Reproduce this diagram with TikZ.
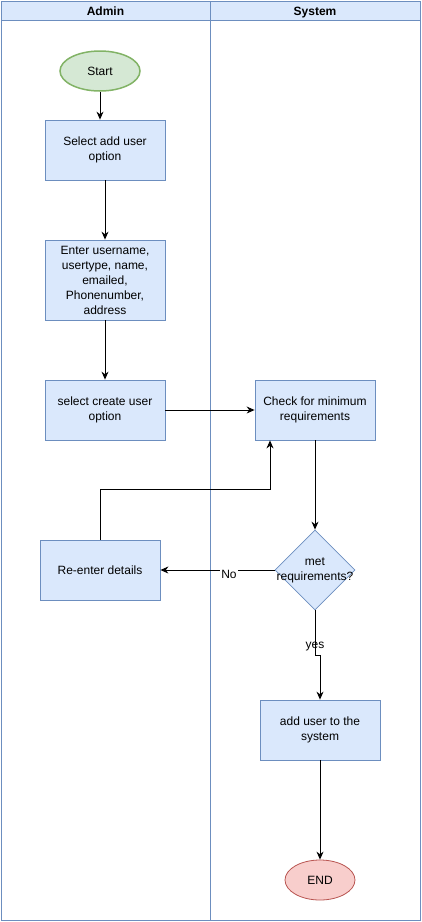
\documentclass[tikz,border=0pt]{standalone}
\usepackage{fontspec}
\setmainfont{Liberation Sans}
\usetikzlibrary{arrows.meta,shapes.geometric}
\definecolor{bfill}{HTML}{DAE8FC}
\definecolor{bline}{HTML}{6C8EBF}
\definecolor{gfill}{HTML}{D5E8D4}
\definecolor{gline}{HTML}{82B366}
\definecolor{rfill}{HTML}{F8CECC}
\definecolor{rline}{HTML}{B85450}
\begin{document}
\begin{tikzpicture}[x=1pt,y=-1pt,font=\fontsize{12}{15}\selectfont,
  lane/.style={draw=bline,line width=0.8pt},
  hdr/.style={draw=bline,fill=bfill,line width=0.8pt},
  htext/.style={font=\fontsize{12}{15}\selectfont\bfseries,anchor=base,inner sep=0pt},
  box/.style={draw=bline,fill=bfill,line width=0.8pt,minimum width=120pt,minimum height=60pt,align=center,inner sep=0pt},
  dia/.style={diamond,draw=bline,fill=bfill,line width=0.8pt,minimum size=80pt,inner sep=0pt,aspect=1},
  arr/.style={draw=black,line width=1pt,-{Stealth[length=8pt,width=7pt]}}]
\useasboundingbox (0,0) rectangle (421,922);
% pool lanes
\draw[lane] (1,1) rectangle (210,920);
\draw[lane] (210,1) rectangle (420,920);
\draw[hdr] (1,1) rectangle (210,20);
\draw[hdr] (210,1) rectangle (420,20);
\node[htext] (hadmin) at (105.5,15.2) {Admin};
\node[htext] (hsys) at (315,15.2) {System};
% nodes
\node[ellipse,draw=gline,fill=gfill,line width=1.5pt,minimum width=80pt,minimum height=40pt,inner sep=0pt] (start) at (100,71) {Start};
\node[box] (sel) at (105,150) {Select add user\\option};
\node[box,minimum height=80pt] (enter) at (105,280) {Enter username,\\usertype, name,\\emailed,\\Phonenumber,\\address};
\node[box] (create) at (105,410) {select create user\\option};
\node[box] (check) at (315,410) {Check for minimum\\requirements};
\node[dia] (dec) at (315,570) {};
\node[align=center,inner sep=0pt] (dect) at (dec.center) {met\\requirements?};
\node[box] (re) at (100,570) {Re-enter details};
\node[box] (add) at (320,730) {add user to the\\system};
\node[ellipse,draw=rline,fill=rfill,line width=0.8pt,minimum width=70pt,minimum height=40pt,inner sep=0pt] (end) at (320,880) {END};
% connectors
\draw[arr] (start.south) -- (start.south |- sel.north);
\draw[arr] (sel) -- (enter);
\draw[arr] (enter) -- (create);
\draw[arr] (create) -- (check);
\draw[arr] (check) -- (dec);
\draw[arr] (dec.west) -- node[pos=0.4,fill=white,inner sep=1pt,yshift=-4pt] {No} (re.east);
\draw[arr] (re.north) -- ++(0,-50) -| ([xshift=-45pt]check.south);
\draw[arr] (dec.south) -- node[pos=0.8,inner sep=0pt] {yes} ++(0,45) -| (add.north);
\draw[arr] (add) -- (end);
\end{tikzpicture}
\end{document}
